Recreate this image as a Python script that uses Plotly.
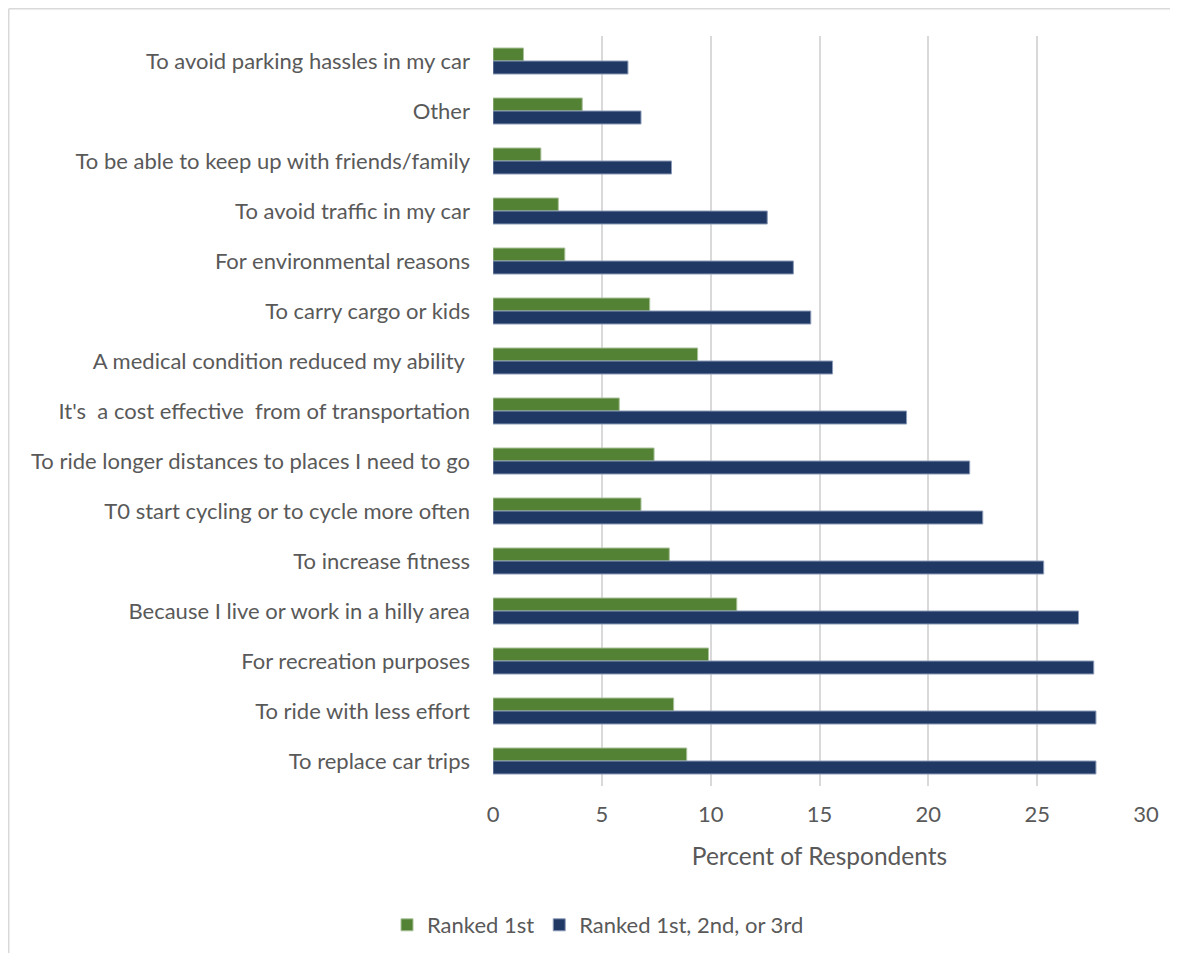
import plotly.graph_objects as go

categories = [
    "To avoid parking hassles in my car",
    "Other",
    "To be able to keep up with friends/family",
    "To avoid traffic in my car",
    "For environmental reasons",
    "To carry cargo or kids",
    "A medical condition reduced my ability ",
    "It's  a cost effective  from of transportation",
    "To ride longer distances to places I need to go",
    "T0 start cycling or to cycle more often",
    "To increase fitness",
    "Because I live or work in a hilly area",
    "For recreation purposes",
    "To ride with less effort",
    "To replace car trips",
]
ranked_1st = [1.4, 4.1, 2.2, 3.0, 3.3, 7.2, 9.4, 5.8, 7.4, 6.8, 8.1, 11.2, 9.9, 8.3, 8.9]
ranked_top3 = [6.2, 6.8, 8.2, 12.6, 13.8, 14.6, 15.6, 19.0, 21.9, 22.5, 25.3, 26.9, 27.6, 27.7, 27.7]
x_ticks = [0, 5, 10, 15, 20, 25, 30]

# page body adds an 8px margin, so the figure is sized to fit inside it
W, H = 1162, 945
L, R, T, B = 485, 1138, 28, 778

FONT = "Lato"
GREY = "#595959"

fig = go.Figure()
fig.add_trace(go.Bar(
    y=categories, x=ranked_1st, orientation="h", name="Ranked 1st",
    marker=dict(color="#548235", line=dict(color="#a9c19a", width=1)),
))
fig.add_trace(go.Bar(
    y=categories, x=ranked_top3, orientation="h", name="Ranked 1st, 2nd, or 3rd",
    marker=dict(color="#203864", line=dict(color="#8b9bb8", width=1)),
))

def px2paper_x(px):
    return (px - L) / (R - L)

def px2paper_y(py):
    return (B - py) / (B - T)

fig.update_layout(
    width=W, height=H,
    margin=dict(l=L, r=W - R, t=T, b=H - B, pad=0, autoexpand=False),
    paper_bgcolor="white", plot_bgcolor="white",
    barmode="group", bargap=0.48, bargroupgap=0,
    font=dict(family=FONT, color=GREY, size=22),
    showlegend=True,
    legend=dict(
        orientation="h", x=px2paper_x(590), xanchor="center",
        y=px2paper_y(917), yanchor="middle",
        font=dict(size=22, color=GREY), itemwidth=30,
        traceorder="normal",
    ),
    xaxis=dict(
        range=[0, 30], tickvals=x_ticks, showgrid=True, automargin=False,
        gridcolor="#d9d9d9", gridwidth=2, zeroline=False,
        showline=False, ticks="", ticklabelstandoff=13,
        tickfont=dict(size=22, color=GREY),
        title=dict(text="Percent of Respondents", font=dict(size=24.5, color=GREY), standoff=21),
    ),
    yaxis=dict(
        type="category", autorange="reversed", showgrid=False, automargin=False,
        showline=False, ticks="", ticklabelstandoff=22,
        tickfont=dict(size=22, color=GREY),
    ),
    shapes=[
        dict(type="line", xref="paper", yref="paper",
             x0=px2paper_x(0.75), x1=px2paper_x(W), y0=px2paper_y(0.75), y1=px2paper_y(0.75),
             line=dict(color="#d9d9d9", width=1.5), layer="below"),
        dict(type="line", xref="paper", yref="paper",
             x0=px2paper_x(0.75), x1=px2paper_x(0.75), y0=px2paper_y(0.75), y1=px2paper_y(H),
             line=dict(color="#d9d9d9", width=1.5), layer="below"),
    ],
)

fig.write_html("out.html")
